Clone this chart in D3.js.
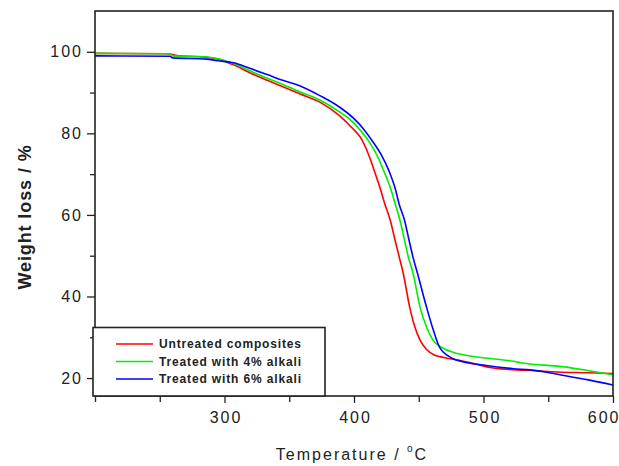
<!DOCTYPE html>
<html lang="en">

<head>
  <meta charset="utf-8">
  <title>TGA curves</title>
  <script src="https://d3js.org/d3.v7.min.js"></script>
  <style>
    body { margin: 0; background: #fff; }
    svg { display: block; font-family: "Liberation Sans", Arial, sans-serif; }
    .tick text { font-size: 16px; letter-spacing: 2px; fill: #222; }
    .tick line { stroke: #222; stroke-width: 1.3; }
    .curve { fill: none; stroke-width: 1.6; }
  </style>
</head>

<body>
  <script>
    // series names + colours
    var seriesNames = ["Untreated composites", "Treated with 4% alkali", "Treated with 6% alkali"];
    var seriesColors = ["#ff0000", "#00ee00", "#0000ff"];

    // [temperature in C, weight %]
    var untreated = [[200,99.6],[255,99.5],[265,99.0],[285,98.7],[295,98.2],[307,96.8],[320,94.8],
      [333,93.0],[345,91.4],[358,89.7],[374,87.6],[389,84.3],[398,81.5],[405,79.0],[411,75.0],
      [416,70.5],[420,66.7],[424,62.5],[428,58.7],[431.7,53.8],[435,49.6],[438,45.7],[443,37.4],
      [447,32.5],[451,29.3],[456,27.0],[462.5,25.6],[470,25.0],[482,24.3],[493,23.5],[505,22.6],
      [520,22.1],[540,21.8],[557,21.5],[582,21.3],[600,21.1]];
    var alkali4 = [[200,99.6],[258,99.5],[260,99.0],[285,98.8],[295,98.3],[307,97.1],[320,95.3],
      [333,93.5],[345,92.0],[358,90.2],[374,88.1],[389,85.2],[398,83.1],[405,80.7],[412,77.8],
      [418,74.5],[423,70.8],[428,66.7],[432,62.5],[435.5,58.7],[439,53.8],[442,49.6],[445.6,45.7],
      [451,37.4],[456,32.5],[461,29.3],[469,27.3],[480,26.0],[497,25.1],[523,24.1],[530,23.7],
      [561,22.8],[585,21.6],[600,20.8]];
    var alkali6 = [[200,99.0],[258,98.9],[260,98.5],[286,98.2],[295,97.8],[307,97.3],[320,95.9],
      [333,94.4],[345,93.0],[358,91.7],[374,89.2],[389,86.4],[401,83.3],[407,81.2],[414,78.2],
      [421,74.8],[427,70.8],[431.6,66.7],[435,62.5],[439,58.7],[442.5,53.8],[445.6,49.6],
      [449,45.7],[456,37.4],[461,32.0],[466,27.6],[475.7,24.9],[484,24.0],[499.6,23.2],[523,22.3],
      [536,22.0],[561,20.7],[582,19.5],[600,18.3]];

    var xTicks = [300, 400, 500, 600];
    var xMinor = [200, 250, 350, 450, 550];
    var yTicks = [20, 40, 60, 80, 100];
    var yMinor = [30, 50, 70, 90];

    var w = 619, h = 466;
    var margin = {top: 11, right: 6, bottom: 70, left: 95};
    var innerW = w - margin.left - margin.right,
      innerH = h - margin.top - margin.bottom;

    var x = d3.scaleLinear().domain([200, 600]).range([0, innerW]);
    var y = d3.scaleLinear().domain([15.6, 110]).range([innerH, 0]);

    var svg = d3.select('body').append('svg')
        .attr('width', w)
        .attr('height', h)
      .append('g')
        .attr('transform', 'translate(' + [margin.left, margin.top] + ')');

    // axes
    var gx = svg.append('g')
      .attr('transform', 'translate(0,' + innerH + ')')
      .call(d3.axisBottom(x).tickValues(xTicks).tickSize(7).tickPadding(9).tickFormat(d3.format('d')));
    gx.selectAll('.tick text').attr('dx', '1px');
    // last label sits against the right edge, as in the picture
    gx.selectAll('.tick text').filter(function(d) { return d === 600; })
      .attr('text-anchor', 'end')
      .attr('dx', (w - margin.left - x(600) + 1) + 'px');
    svg.append('g')
      .attr('transform', 'translate(0,' + innerH + ')')
      .call(d3.axisBottom(x).tickValues(xMinor).tickSize(6).tickFormat(''));

    svg.append('g')
      .call(d3.axisLeft(y).tickValues(yTicks).tickSize(8).tickPadding(4).tickFormat(d3.format('d')));
    svg.append('g')
      .call(d3.axisLeft(y).tickValues(yMinor).tickSize(5).tickFormat(''));

    svg.selectAll('.domain').remove();

    // curves
    var line = d3.line()
      .curve(d3.curveMonotoneX)
      .x(function(d) { return x(d[0]); })
      .y(function(d) { return y(d[1]); });

    svg.selectAll('.curve')
      .data([untreated, alkali4, alkali6])
    .enter().append('path')
      .attr('class', 'curve')
      .attr('stroke', function(d, i) { return seriesColors[i]; })
      .attr('d', line);

    // frame
    svg.append('rect')
      .attr('width', innerW)
      .attr('height', innerH)
      .attr('fill', 'none')
      .attr('stroke', '#222')
      .attr('stroke-width', 1.6);

    // legend
    var legend = svg.append('g')
      .attr('transform', 'translate(-2,' + (innerH - 68.5) + ')');
    legend.append('rect')
      .attr('width', 232)
      .attr('height', 68.5)
      .attr('fill', '#fff')
      .attr('stroke', '#222')
      .attr('stroke-width', 1.6);
    var items = legend.selectAll('.item')
      .data(seriesNames)
    .enter().append('g')
      .attr('transform', function(d, i) { return 'translate(0,' + (16.5 + i * 17.5) + ')'; });
    items.append('line')
      .attr('x1', 23).attr('x2', 60)
      .attr('stroke', function(d, i) { return seriesColors[i]; })
      .attr('stroke-width', 1.6);
    items.append('text')
      .attr('x', 66)
      .attr('dy', '0.36em')
      .attr('textLength', 142)
      .attr('lengthAdjust', 'spacing')
      .style('font-size', '12px')
      .style('font-weight', 'bold')
      .attr('fill', '#222')
      .text(function(d) { return d; });

    // titles
    var xt = svg.append('text')
      .attr('x', 257)
      .attr('y', 449)
      .attr('text-anchor', 'middle')
      .style('font-size', '16px')
      .style('letter-spacing', '2px')
      .attr('fill', '#222');
    xt.append('tspan').text('Temperature / ');
    xt.append('tspan').attr('dy', -8).style('font-size', '10px').text('o');
    xt.append('tspan').attr('dy', 8).text('C');

    svg.append('text')
      .attr('transform', 'translate(-64,' + 206 + ') rotate(-90)')
      .attr('text-anchor', 'middle')
      .style('font-size', '18px')
      .style('font-weight', 'bold')
      .style('letter-spacing', '0.9px')
      .attr('fill', '#222')
      .text('Weight loss / %');
  </script>
</body>

</html>
